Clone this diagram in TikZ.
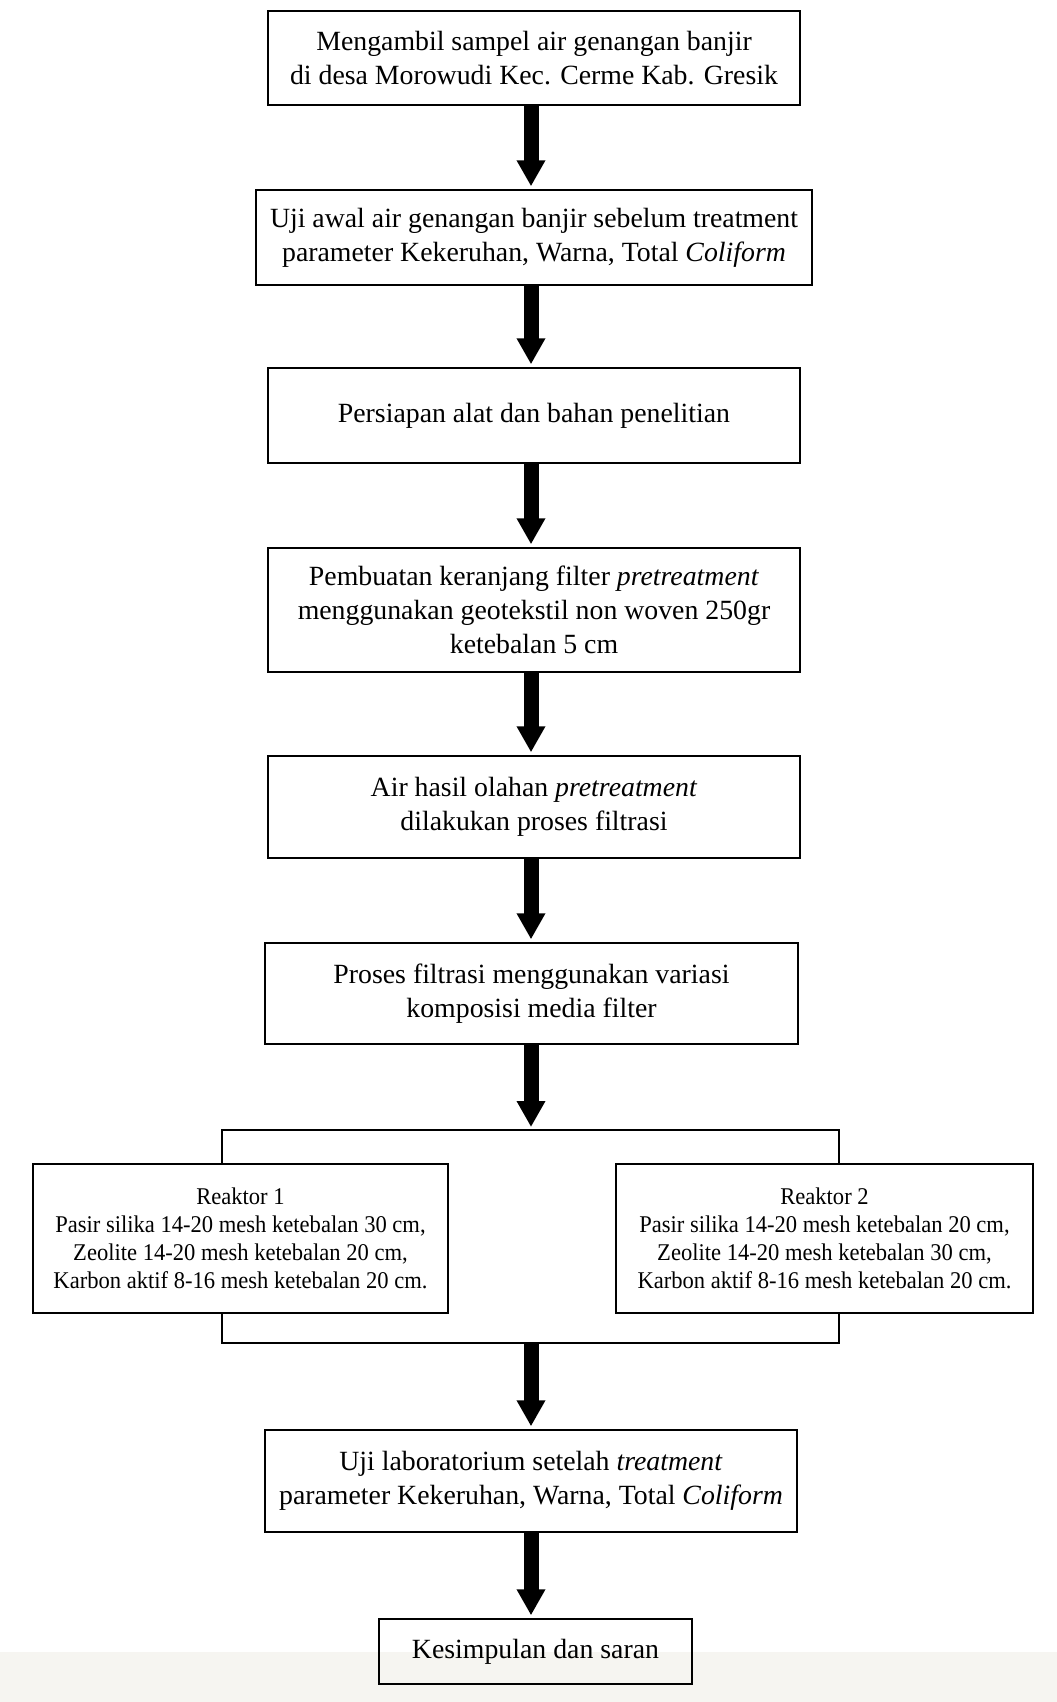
\documentclass[tikz,border=0pt]{standalone}
\usepackage{fontspec}
\setmainfont{Liberation Serif}
\newfontfamily\condfont[FakeStretch=0.94]{Liberation Serif}
\usetikzlibrary{arrows.meta}
\definecolor{bandgray}{HTML}{F6F5F1}
\begin{document}
\begin{tikzpicture}[x=1pt,y=1pt,
 box/.style={draw, line width=1.4pt, align=center, inner sep=0pt, font=\fontsize{27.8}{34}\selectfont},
 reactor/.style={draw, line width=1.4pt, align=center, inner sep=0pt, font=\condfont\fontsize{24}{28.2}\selectfont},
 bigarrow/.style={line width=15pt, -{Triangle[width=27pt,length=26pt]}, shorten >=3pt},
 bracket/.style={line width=1.4pt}]
\useasboundingbox (0,0) rectangle (1057,-1702);
\fill[bandgray] (0,-1652) rectangle (1057,-1702);
\coordinate (ax) at (531,0);
\node[box, minimum width=532pt, minimum height=94pt] (b1) at (534,-58) {Mengambil sampel air genangan banjir\\ di desa Morowudi Kec. Cerme Kab. Gresik};
\node[box, minimum width=556pt, minimum height=95pt] (b2) at (534,-237.5) {Uji awal air genangan banjir sebelum treatment\\ parameter Kekeruhan, Warna, Total \textit{Coliform}};
\node[box, minimum width=532pt, minimum height=95pt] (b3) at (534,-415.5) {Persiapan alat dan bahan penelitian};
\node[box, minimum width=532pt, minimum height=124pt] (b4) at (534,-610) {Pembuatan keranjang filter \textit{pretreatment}\\ menggunakan geotekstil non woven 250gr\\ ketebalan 5 cm};
\node[box, minimum width=532pt, minimum height=102pt] (b5) at (534,-807) {Air hasil olahan \textit{pretreatment}\\ dilakukan proses filtrasi};
\node[box, minimum width=533pt, minimum height=101pt] (b6) at (531.5,-993.5) {Proses filtrasi menggunakan variasi\\ komposisi media filter};
\node[reactor, minimum width=415pt, minimum height=149pt] (r1) at (240.5,-1238.5) {Reaktor 1\\ Pasir silika 14-20 mesh ketebalan 30 cm,\\ Zeolite 14-20 mesh ketebalan 20 cm,\\ Karbon aktif 8-16 mesh ketebalan 20 cm.};
\node[reactor, minimum width=417pt, minimum height=149pt] (r2) at (824.5,-1238.5) {Reaktor 2\\ Pasir silika 14-20 mesh ketebalan 20 cm,\\ Zeolite 14-20 mesh ketebalan 30 cm,\\ Karbon aktif 8-16 mesh ketebalan 20 cm.};
\node[box, minimum width=532pt, minimum height=102pt] (b7) at (531,-1481) {Uji laboratorium setelah \textit{treatment}\\ parameter Kekeruhan, Warna, Total \textit{Coliform}};
\node[box, minimum width=313pt, minimum height=65pt] (b8) at (535.5,-1651.5) {Kesimpulan dan saran};
\coordinate (tl) at (222,-1130);
\coordinate (tr) at (839,-1130);
\coordinate (bl) at (222,-1343);
\coordinate (br) at (839,-1343);
\coordinate (tc) at (531,-1130);
\coordinate (bc) at (531,-1343);
\draw[bracket] (r1.north -| tl) -- (tl) -- (tr) -- (r2.north -| tr);
\draw[bracket] (r1.south -| bl) -- (bl) -- (br) -- (r2.south -| br);
\draw[bigarrow] (b1.south -| ax) -- (b2.north -| ax);
\draw[bigarrow] (b2.south -| ax) -- (b3.north -| ax);
\draw[bigarrow] (b3.south -| ax) -- (b4.north -| ax);
\draw[bigarrow] (b4.south -| ax) -- (b5.north -| ax);
\draw[bigarrow] (b5.south -| ax) -- (b6.north -| ax);
\draw[bigarrow] (b6.south -| ax) -- (tc);
\draw[bigarrow, shorten <=0.7pt] (bc) -- (b7.north -| ax);
\draw[bigarrow] (b7.south -| ax) -- (b8.north -| ax);
\end{tikzpicture}
\end{document}
